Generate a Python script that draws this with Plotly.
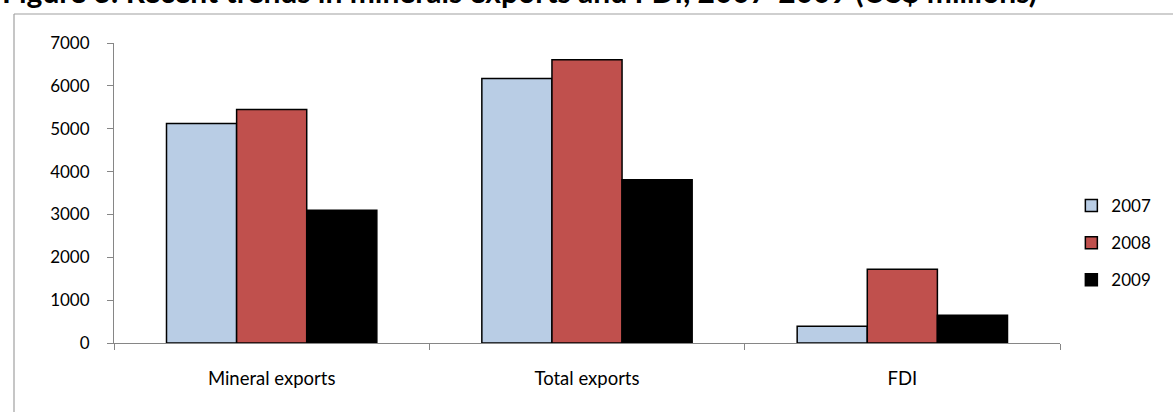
import plotly.graph_objects as go

categories = ["Mineral exports", "Total exports", "FDI"]
years = ["2007", "2008", "2009"]
values_2007 = [5120, 6170, 390]
values_2008 = [5450, 6610, 1720]
values_2009 = [3100, 3810, 645]
y_ticks = [0, 1000, 2000, 3000, 4000, 5000, 6000, 7000]
title_text = "Figure 3: Recent trends in minerals exports and FDI, 2007-2009 (US$ millions)"

colors = ["#B9CDE5", "#C0504D", "#000000"]
series = [values_2007, values_2008, values_2009]

W, H = 1173, 412
ML, MR, MT, MB = 114, 113, 43, 69
pw = W - ML - MR
ph = H - MT - MB

fig = go.Figure()
for i, (yr, vals) in enumerate(zip(years, series)):
    fig.add_trace(go.Bar(
        x=categories, y=vals, name=yr,
        marker=dict(color=colors[i], line=dict(color="#000000", width=1.5)),
        legendgroup=yr,
    ))

def px_to_paper_x(p):
    return (p - ML) / pw

def px_to_paper_y(p):
    return (H - MB - p) / ph

fig.update_layout(
    width=W, height=H,
    margin=dict(l=ML, r=MR, t=MT, b=MB, pad=0),
    paper_bgcolor="white", plot_bgcolor="white",
    barmode="group", bargap=0.333, bargroupgap=0,
    font=dict(family="Lato, sans-serif", size=15, color="#000000"),
    showlegend=True,
    legend=dict(
        x=1.012, y=px_to_paper_y(243), xanchor="left", yanchor="middle",
        traceorder="grouped", tracegroupgap=12,
        font=dict(family="Lato, sans-serif", size=17, color="#000000"),
        itemwidth=30, bgcolor="rgba(0,0,0,0)",
    ),
    xaxis=dict(
        showline=True, linecolor="#868686", linewidth=1,
        ticks="outside", tickson="boundaries", ticklen=6, tickcolor="#868686",
        tickfont=dict(family="Lato, sans-serif", size=18.5),
        ticklabelstandoff=19, showgrid=False,
    ),
    yaxis=dict(
        range=[0, 7000], tickvals=y_ticks,
        showline=True, linecolor="#868686", linewidth=1,
        ticks="outside", ticklen=6, tickcolor="#868686",
        tickfont=dict(family="Lato, sans-serif", size=17),
        ticklabelstandoff=14, showgrid=False, zeroline=False,
    ),
    shapes=[
        dict(type="line", xref="paper", yref="paper",
             x0=px_to_paper_x(14), x1=px_to_paper_x(1200),
             y0=px_to_paper_y(14), y1=px_to_paper_y(14),
             line=dict(color="#A0A0A0", width=1.2)),
        dict(type="line", xref="paper", yref="paper",
             x0=px_to_paper_x(14), x1=px_to_paper_x(14),
             y0=px_to_paper_y(14), y1=px_to_paper_y(420),
             line=dict(color="#A0A0A0", width=1.2)),
    ],
    annotations=[
        dict(text="<b>" + title_text + "</b>", xref="paper", yref="paper",
             x=px_to_paper_x(0), y=px_to_paper_y(-9), xanchor="left", yanchor="middle",
             showarrow=False, font=dict(family="Lato, sans-serif", size=30, color="#000000")),
    ],
)

fig.write_html("out.html", config={"displayModeBar": False},
               post_script="document.body.style.margin='0';")
